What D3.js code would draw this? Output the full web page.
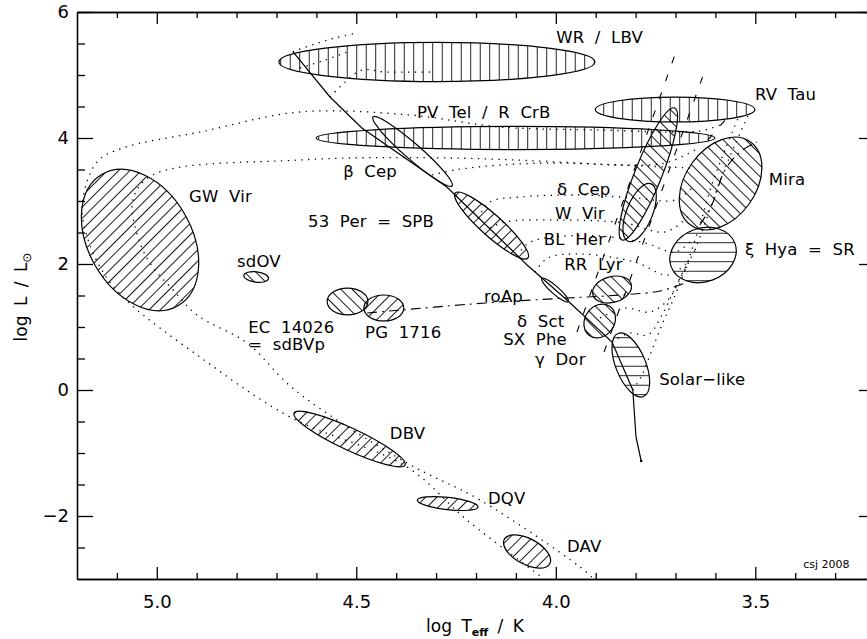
<!DOCTYPE html>
<html>
<head>
<meta charset="utf-8">
<script src="https://cdn.jsdelivr.net/npm/d3@7"></script>
<style>
  body { margin: 0; background: #fff; }
  text { font-family: "DejaVu Sans", sans-serif; fill: #000; }
  .label { font-size: 16.5px; letter-spacing: 0.2px; word-spacing: 5px; }
</style>
</head>
<body>
<div id="graph"></div>
<script>
// ------DATA------
// axis ticks (log Teff, log L)
const xMajorTicks = [5.0, 4.5, 4.0, 3.5]
const xMinorTicks = [5.1, 4.9, 4.8, 4.7, 4.6, 4.4, 4.3, 4.2, 4.1, 3.9, 3.8, 3.7, 3.6, 3.4, 3.3]
const yMajorTicks = [-2, 0, 2, 4, 6]
const yMinorTicks = [-2.5, -1.5, -1, -0.5, 0.5, 1, 1.5, 2.5, 3, 3.5, 4.5, 5, 5.5]

// pulsator regions: [name, centre logT, centre logL, end of major axis logT, logL, minor/major ratio]
const regions = [
  ["WR/LBV",   4.298,  5.206, 3.902,  5.206, 0.124],
  ["PVTel",    4.101,  4.000, 3.601,  4.000, 0.058],
  ["RVTau",    3.701,  4.452, 3.501,  4.452, 0.156],
  ["GWVir",    5.042,  2.381, 4.947,  1.337, 0.68],
  ["sdOV",     4.751,  1.794, 4.720,  1.770, 0.42],
  ["EC14026",  4.522,  1.405, 4.471,  1.405, 0.66],
  ["PG1716",   4.431,  1.302, 4.381,  1.302, 0.65],
  ["DBV",      4.517, -0.778, 4.378, -1.190, 0.18],
  ["DQV",      4.271, -1.802, 4.195, -1.857, 0.2],
  ["DAV",      4.072, -2.563, 4.015, -2.757, 0.5],
  ["betaCep",  4.359,  3.786, 4.260,  3.238, 0.15],
  ["SPB",      4.161,  2.611, 4.070,  2.095, 0.22],
  ["roAp",     4.002,  1.587, 3.969,  1.402, 0.22],
  ["deltaCep", 3.768,  3.429, 3.834,  2.381, 0.19],
  ["WVir",     3.790,  2.817, 3.819,  2.362, 0.42],
  ["Mira",     3.587,  3.278, 3.512,  3.938, 0.685],
  ["xiHya",    3.631,  2.143, 3.551,  2.327, 0.79],
  ["RRLyr",    3.859,  1.595, 3.811,  1.678, 0.65],
  ["deltaSct", 3.890,  1.095, 3.865,  1.329, 0.83],
  ["solar",    3.812,  0.397, 3.780, -0.103, 0.44]
]

// main sequence (solid)
const mainSequence = [[4.659, 5.370], [4.566, 4.651], [4.486, 4.159], [4.273, 3.222], [4.072, 1.984],
  [3.972, 1.429], [3.859, 0.762], [3.807, 0.000], [3.799, -0.746], [3.786, -1.127]]

// horizontal branch and AGB (dash-dot)
const horizontalBranch = [[4.473, 1.222], [4.177, 1.381], [3.972, 1.460], [3.839, 1.508], [3.739, 1.571], [3.676, 1.698]]
const agbTip = [[3.639, 2.619], [3.609, 2.937], [3.576, 3.492], [3.538, 3.778], [3.496, 3.937]]

// instability strip edges (dashed)
const blueEdge = [[3.947, 0.921], [3.699, 5.365]]
const redEdge = [[3.879, 0.603], [3.626, 5.079]]
const rvTauStrip = [[3.619, 3.968], [3.558, 4.413]]

// evolutionary tracks (dotted)
const postAgbUpper = [[3.589, 4.206], [3.639, 4.111], [3.889, 4.127], [4.140, 4.175], [4.365, 4.365],
  [4.641, 4.413], [4.892, 4.095], [5.085, 3.841], [5.150, 3.619], [5.187, 2.937], [5.172, 2.381],
  [5.130, 1.825], [5.072, 1.397], [4.892, 0.524], [4.666, -0.429], [4.373, -1.222], [4.223, -2.063], [4.032, -2.984]]
const postAgbLower = [[3.664, 3.524], [3.839, 3.571], [4.265, 3.683], [4.641, 3.651], [5.010, 3.413],
  [5.060, 3.016], [5.042, 2.333], [5.010, 1.952], [4.959, 1.587], [4.899, 1.190], [4.774, 0.746],
  [4.654, 0.000], [4.373, -1.159], [4.190, -1.746], [3.939, -2.810], [3.907, -2.984]]
const tracks = [
  [[4.659, 5.370], [4.604, 5.492], [4.553, 5.587], [4.498, 5.667]],
  [[4.641, 5.111], [4.578, 5.238], [4.516, 5.381]],
  [[4.566, 4.651], [4.528, 4.889], [4.486, 5.079], [4.428, 5.048], [4.310, 5.048]],
  [[4.310, 3.413], [4.253, 3.492], [4.140, 3.571], [3.989, 3.603], [3.839, 3.571], [3.726, 3.603], [3.651, 3.810]],
  [[4.195, 2.730], [4.165, 2.984], [4.090, 3.063], [3.939, 3.095], [3.802, 3.048], [3.701, 3.016], [3.651, 3.254]],
  [[4.165, 2.571], [4.127, 2.667], [3.989, 2.698], [3.827, 2.651], [3.726, 2.508], [3.664, 2.778]],
  [[4.097, 2.127], [4.072, 2.317], [4.027, 2.413], [3.889, 2.444], [3.776, 2.333], [3.701, 2.190], [3.659, 2.381]],
  [[4.052, 1.873], [4.020, 2.095], [3.939, 2.159], [3.802, 2.032], [3.719, 1.825], [3.669, 2.032]],
  [[3.889, 1.143], [3.827, 1.302], [3.764, 1.238], [3.719, 1.429], [3.684, 1.825], [3.651, 2.222]],
  [[3.859, 0.762], [3.814, 0.905], [3.769, 0.873], [3.734, 1.190], [3.701, 1.619], [3.664, 2.095]],
  [[3.807, 0.000], [3.784, 0.238], [3.759, 0.635], [3.734, 1.032], [3.704, 1.460], [3.674, 1.937]],
  [[3.674, 1.937], [3.639, 2.619], [3.609, 3.254], [3.576, 3.810], [3.543, 4.317]],
  [[3.651, 2.222], [3.614, 2.857], [3.583, 3.413], [3.551, 3.889], [3.518, 4.365]]
]

// labels: [[text, logT] per line, logL of first baseline]
const labels = [
  [[["WR / LBV", 3.999]], 5.508], [[["RV Tau", 3.501]], 4.603], [[["PV Tel / R CrB", 4.348]], 4.317],
  [[["Mira", 3.466]], 3.254], [[["GW Vir", 4.919]], 2.984], [[["β Cep", 4.533]], 3.381],
  [[["δ Cep", 3.997]], 3.095], [[["W Vir", 4.002]], 2.714], [[["53 Per = SPB", 4.621]], 2.587],
  [[["BL Her", 4.030]], 2.302], [[["ξ Hya = SR", 3.526]], 2.143], [[["sdOV", 4.799]], 1.952],
  [[["RR Lyr", 3.979]], 1.905], [[["roAp", 4.180]], 1.397],
  [[["EC 14026", 4.771], ["= sdBVp", 4.771]], 0.905],
  [[["PG 1716", 4.478]], 0.825],
  [[["δ Sct", 4.097], ["SX Phe", 4.132]], 1.0],
  [[["γ Dor", 4.052]], 0.397], [[["Solar−like", 3.741]], 0.079],
  [[["DBV", 4.416]], -0.778], [[["DQV", 4.170]], -1.810], [[["DAV", 3.972]], -2.571]
]
// ------END OF DATA------

// hatch style for each region
const hatchOf = {
  "WR/LBV": "vert", "PVTel": "vert", "RVTau": "vert", "GWVir": "slash", "sdOV": "back",
  "EC14026": "back", "PG1716": "slash", "DBV": "slash", "DQV": "slash", "DAV": "slash",
  "betaCep": null, "SPB": "slash", "roAp": null, "deltaCep": "back", "WVir": null,
  "Mira": "back", "xiHya": "horiz", "RRLyr": "back", "deltaSct": "back", "solar": "horiz"
}

const width = 867, height = 639
const margin = { top: 12, left: 77, bottom: 60 }

const svg = d3.select('#graph').append('svg')
  .attr('width', width).attr('height', height)

const x = d3.scaleLinear().domain([5.2, 3.2]).range([margin.left, 875])
const y = d3.scaleLinear().domain([-3, 6]).range([height - margin.bottom, margin.top])

const defs = svg.append('defs')
defs.append('clipPath').attr('id', 'plot')
  .append('rect').attr('x', x(5.2)).attr('y', y(6)).attr('width', x(3.2) - x(5.2)).attr('height', y(-3) - y(6))

// hatch patterns: a single line rotated
const hatches = [["vert", 0, 9.5], ["horiz", 90, 9.5], ["slash", 45, 8], ["back", -45, 8]]
hatches.forEach(([id, angle, s]) => {
  defs.append('pattern').attr('id', id)
    .attr('patternUnits', 'userSpaceOnUse')
    .attr('width', s).attr('height', s)
    .attr('patternTransform', `rotate(${angle})`)
    .append('line')
      .attr('x1', s / 2).attr('x2', s / 2).attr('y1', -1).attr('y2', s + 1)
      .attr('stroke', '#000').attr('stroke-width', 0.9)
      .attr('shape-rendering', 'crispEdges')
})

const plot = svg.append('g').attr('clip-path', 'url(#plot)')
const line = d3.line().x(d => x(d[0])).y(d => y(d[1]))

// dotted evolutionary tracks
const dotted = [postAgbUpper, postAgbLower, ...tracks]
plot.selectAll('.track').data(dotted).enter().append('path')
  .attr('class', 'track')
  .attr('d', line.curve(d3.curveCatmullRom))
  .attr('fill', 'none').attr('stroke', '#000')
  .attr('stroke-width', 1.3).attr('stroke-dasharray', '1.3 5.5')

// instability strip edges
plot.selectAll('.edge').data([blueEdge, redEdge, rvTauStrip]).enter().append('path')
  .attr('class', 'edge')
  .attr('d', line.curve(d3.curveLinear))
  .attr('fill', 'none').attr('stroke', '#000')
  .attr('stroke-width', 1.1).attr('stroke-dasharray', '7 12')

// horizontal branch and AGB (dash-dot)
plot.selectAll('.hb').data([horizontalBranch, agbTip]).enter().append('path')
  .attr('class', 'hb')
  .attr('d', line.curve(d3.curveCatmullRom))
  .attr('fill', 'none').attr('stroke', '#000')
  .attr('stroke-width', 1.1).attr('stroke-dasharray', '10 5 2 5')

// main sequence
plot.append('path')
  .attr('d', line.curve(d3.curveLinear)(mainSequence))
  .attr('fill', 'none').attr('stroke', '#000').attr('stroke-width', 1.2)

plot.append('circle')
  .attr('cx', x(mainSequence[mainSequence.length - 1][0]))
  .attr('cy', y(mainSequence[mainSequence.length - 1][1]))
  .attr('r', 1.3).attr('fill', '#000')

// ellipse outline as two arcs in screen space (so the hatching stays unrotated)
function ellipsePath(d) {
  const cx = x(d[1]), cy = y(d[2])
  const ex = x(d[3]), ey = y(d[4])
  const a = Math.hypot(ex - cx, ey - cy), b = a * d[5]
  const angle = Math.atan2(ey - cy, ex - cx) * 180 / Math.PI
  const ox = 2 * cx - ex, oy = 2 * cy - ey
  return `M${ex},${ey}A${a},${b} ${angle} 0 1 ${ox},${oy}A${a},${b} ${angle} 0 1 ${ex},${ey}Z`
}

plot.selectAll('.region').data(regions).enter().append('path')
  .attr('class', 'region')
  .attr('d', ellipsePath)
  .attr('fill', d => hatchOf[d[0]] ? `url(#${hatchOf[d[0]]})` : 'none')
  .attr('stroke', '#000').attr('stroke-width', 1.2)

// labels (multi-line ones use tspans, each line has its own x)
const lbl = svg.selectAll('.label').data(labels).enter().append('text')
  .attr('class', 'label')
  .attr('y', d => y(d[1]))
lbl.selectAll('tspan').data(d => d[0]).enter().append('tspan')
  .attr('x', d => x(d[1]))
  .attr('dy', (d, i) => i ? 17.5 : 0)
  .text(d => d[0])

svg.append('text')
  .attr('x', x(3.380)).attr('y', y(-2.825))
  .style('font-size', '11px')
  .text('csj 2008')

// ------AXES------
const minus = d => d < 0 ? '−' + (-d) : String(d)
function styleAxis(g) {
  g.attr('font-family', null).attr('font-size', null)
  g.selectAll('path, line').attr('stroke', '#000').attr('stroke-width', 1.3)
  g.selectAll('text').style('font-size', '18px')
}

svg.append('g').attr('transform', `translate(0, ${y(-3)})`)
  .call(d3.axisBottom(x).tickValues(xMajorTicks).tickSize(-12).tickSizeOuter(0)
    .tickPadding(16).tickFormat(d3.format('.1f')))
  .call(styleAxis)
svg.append('g').attr('transform', `translate(0, ${y(-3)})`)
  .call(d3.axisBottom(x).tickValues(xMinorTicks).tickSize(-6).tickSizeOuter(0).tickFormat(''))
  .call(styleAxis)
svg.append('g').attr('transform', `translate(0, ${y(6)})`)
  .call(d3.axisTop(x).tickValues(xMajorTicks).tickSize(-12).tickSizeOuter(0).tickFormat(''))
  .call(styleAxis)
svg.append('g').attr('transform', `translate(0, ${y(6)})`)
  .call(d3.axisTop(x).tickValues(xMinorTicks).tickSize(-6).tickSizeOuter(0).tickFormat(''))
  .call(styleAxis)

svg.append('g').attr('transform', `translate(${x(5.2)}, 0)`)
  .call(d3.axisLeft(y).tickValues(yMajorTicks).tickSize(-16).tickSizeOuter(0)
    .tickPadding(8).tickFormat(minus))
  .call(styleAxis)
svg.append('g').attr('transform', `translate(${x(5.2)}, 0)`)
  .call(d3.axisLeft(y).tickValues(yMinorTicks).tickSize(-8).tickSizeOuter(0).tickFormat(''))
  .call(styleAxis)
svg.append('g').attr('transform', `translate(${x(3.2)}, 0)`)
  .call(d3.axisRight(y).tickValues(yMajorTicks).tickSize(-16).tickSizeOuter(0).tickFormat(''))
  .call(styleAxis)
svg.append('g').attr('transform', `translate(${x(3.2)}, 0)`)
  .call(d3.axisRight(y).tickValues(yMinorTicks).tickSize(-8).tickSizeOuter(0).tickFormat(''))
  .call(styleAxis)

// axis titles
const xTitle = svg.append('text')
  .attr('x', 475).attr('y', 632)
  .attr('text-anchor', 'middle')
  .style('font-size', '17px').style('word-spacing', '4px')
xTitle.append('tspan').text('log T')
xTitle.append('tspan').attr('dy', 4).style('font-size', '11px').style('font-weight', 'bold').text('eff')
xTitle.append('tspan').attr('dy', -4).text(' / K')

const yTitle = svg.append('text')
  .attr('transform', `translate(27, 297) rotate(-90)`)
  .attr('text-anchor', 'middle')
  .style('font-size', '17px').style('word-spacing', '4px')
yTitle.append('tspan').text('log L / L')
yTitle.append('tspan').attr('dy', 4).style('font-size', '12px').text('⊙')
</script>
</body>
</html>
